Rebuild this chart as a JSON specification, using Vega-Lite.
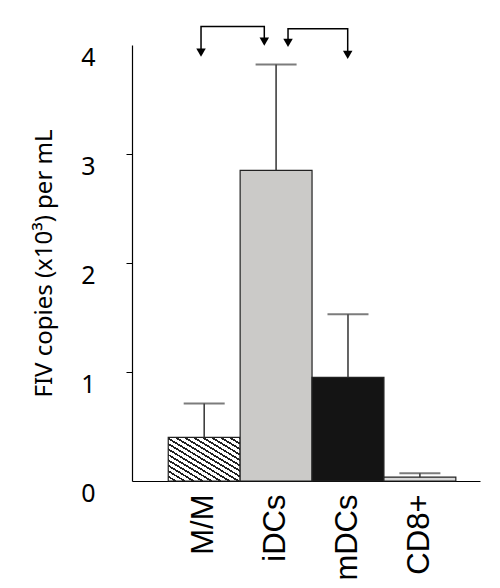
{
  "$schema": "https://vega.github.io/schema/vega-lite/v6.json",
  "background": "white",
  "autosize": "none",
  "padding": {"left": 132, "top": 45, "right": 20, "bottom": 107},
  "width": 348,
  "height": 436,
  "datasets": {
    "bars": [
      {"cell": "M/M", "value": 0.40, "upper": 0.71},
      {"cell": "iDCs", "value": 2.85, "upper": 3.82},
      {"cell": "mDCs", "value": 0.95, "upper": 1.53},
      {"cell": "CD8+", "value": 0.035, "upper": 0.07}
    ],
    "brackets": [
      {"pair": "a", "step": 1, "pos": 0.96, "y": 3.93},
      {"pair": "a", "step": 2, "pos": 0.96, "y": 4.17},
      {"pair": "a", "step": 3, "pos": 1.84, "y": 4.17},
      {"pair": "a", "step": 4, "pos": 1.84, "y": 4.03},
      {"pair": "b", "step": 1, "pos": 2.17, "y": 4.02},
      {"pair": "b", "step": 2, "pos": 2.17, "y": 4.15},
      {"pair": "b", "step": 3, "pos": 3.0, "y": 4.15},
      {"pair": "b", "step": 4, "pos": 3.0, "y": 3.91}
    ]
  },
  "resolve": {"scale": {"x": "independent"}},
  "layer": [
    {
      "data": {"name": "bars"},
      "encoding": {
        "x": {
          "field": "cell",
          "type": "nominal",
          "sort": ["M/M", "iDCs", "mDCs", "CD8+"],
          "title": null,
          "scale": {"paddingInner": 0, "paddingOuter": 0.42, "align": 0.6},
          "axis": {"labelAngle": 270, "labelPadding": 13, "ticks": false}
        }
      },
      "layer": [
        {
          "mark": {"type": "bar", "stroke": "#222", "strokeWidth": 1.2},
          "encoding": {
            "y": {
              "field": "value",
              "type": "quantitative",
              "title": "FIV copies (x10³) per mL",
              "scale": {"domain": [0, 4]},
              "axis": {
                "values": [0, 1, 2, 3, 4],
                "format": "d",
                "labelBaseline": "top",
                "labelOffset": 0,
                "tickColor": {"condition": {"test": "datum.value === 0 || datum.value === 4", "value": "transparent"}, "value": "black"}
              }
            },
            "fill": {
              "condition": {
                "test": "datum.cell === 'M/M'",
                "value": {
                  "gradient": "linear",
                  "x1": 0, "y1": 1, "x2": 1, "y2": 0,
                  "stops": [
                    {"offset": 0, "color": "white"}, {"offset": 0.04, "color": "white"}, {"offset": 0.04, "color": "#222"}, {"offset": 0.0625, "color": "#222"},
                    {"offset": 0.0625, "color": "white"}, {"offset": 0.1025, "color": "white"}, {"offset": 0.1025, "color": "#222"}, {"offset": 0.125, "color": "#222"},
                    {"offset": 0.125, "color": "white"}, {"offset": 0.165, "color": "white"}, {"offset": 0.165, "color": "#222"}, {"offset": 0.1875, "color": "#222"},
                    {"offset": 0.1875, "color": "white"}, {"offset": 0.2275, "color": "white"}, {"offset": 0.2275, "color": "#222"}, {"offset": 0.25, "color": "#222"},
                    {"offset": 0.25, "color": "white"}, {"offset": 0.29, "color": "white"}, {"offset": 0.29, "color": "#222"}, {"offset": 0.3125, "color": "#222"},
                    {"offset": 0.3125, "color": "white"}, {"offset": 0.3525, "color": "white"}, {"offset": 0.3525, "color": "#222"}, {"offset": 0.375, "color": "#222"},
                    {"offset": 0.375, "color": "white"}, {"offset": 0.415, "color": "white"}, {"offset": 0.415, "color": "#222"}, {"offset": 0.4375, "color": "#222"},
                    {"offset": 0.4375, "color": "white"}, {"offset": 0.4775, "color": "white"}, {"offset": 0.4775, "color": "#222"}, {"offset": 0.5, "color": "#222"},
                    {"offset": 0.5, "color": "white"}, {"offset": 0.54, "color": "white"}, {"offset": 0.54, "color": "#222"}, {"offset": 0.5625, "color": "#222"},
                    {"offset": 0.5625, "color": "white"}, {"offset": 0.6025, "color": "white"}, {"offset": 0.6025, "color": "#222"}, {"offset": 0.625, "color": "#222"},
                    {"offset": 0.625, "color": "white"}, {"offset": 0.665, "color": "white"}, {"offset": 0.665, "color": "#222"}, {"offset": 0.6875, "color": "#222"},
                    {"offset": 0.6875, "color": "white"}, {"offset": 0.7275, "color": "white"}, {"offset": 0.7275, "color": "#222"}, {"offset": 0.75, "color": "#222"},
                    {"offset": 0.75, "color": "white"}, {"offset": 0.79, "color": "white"}, {"offset": 0.79, "color": "#222"}, {"offset": 0.8125, "color": "#222"},
                    {"offset": 0.8125, "color": "white"}, {"offset": 0.8525, "color": "white"}, {"offset": 0.8525, "color": "#222"}, {"offset": 0.875, "color": "#222"},
                    {"offset": 0.875, "color": "white"}, {"offset": 0.915, "color": "white"}, {"offset": 0.915, "color": "#222"}, {"offset": 0.9375, "color": "#222"},
                    {"offset": 0.9375, "color": "white"}, {"offset": 0.9775, "color": "white"}, {"offset": 0.9775, "color": "#222"}, {"offset": 1, "color": "#222"}
                  ]
                }
              },
              "field": "cell",
              "type": "nominal",
              "scale": {"domain": ["M/M", "iDCs", "mDCs", "CD8+"], "range": ["#ffffff", "#cbcac8", "#141414", "#d9d9d9"]},
              "legend": null
            }
          }
        },
        {
          "mark": {"type": "rule", "color": "#333", "strokeWidth": 1.5},
          "encoding": {
            "y": {"field": "value", "type": "quantitative", "title": "FIV copies (x10³) per mL"},
            "y2": {"field": "upper"}
          }
        },
        {
          "mark": {"type": "tick", "orient": "horizontal", "color": "#444", "size": 41, "thickness": 2},
          "encoding": {
            "y": {"field": "upper", "type": "quantitative", "title": "FIV copies (x10³) per mL"}
          }
        }
      ]
    },
    {
      "data": {"name": "brackets"},
      "encoding": {
        "x": {"field": "pos", "type": "quantitative", "scale": {"domain": [0, 4.84]}, "axis": null},
        "y": {"field": "y", "type": "quantitative", "title": "FIV copies (x10³) per mL"}
      },
      "layer": [
        {
          "mark": {"type": "line", "color": "black", "strokeWidth": 1.5},
          "encoding": {
            "detail": {"field": "pair"},
            "order": {"field": "step"}
          }
        },
        {
          "transform": [{"filter": "datum.step === 1 || datum.step === 4"}],
          "mark": {"type": "point", "shape": "triangle-down", "filled": true, "color": "black", "size": 90, "opacity": 1},
          "encoding": {}
        }
      ]
    }
  ],
  "config": {
    "view": {"stroke": null},
    "axis": {
      "grid": false,
      "domainColor": "black",
      "domainWidth": 1.2,
      "labelColor": "black",
      "titleColor": "black"
    },
    "axisX": {
      "labelFont": "Liberation Sans",
      "labelFontSize": 31
    },
    "axisY": {
      "labelFont": "Noto Sans",
      "labelFontSize": 25,
      "labelPadding": 31,
      "tickSize": 6,
      "titleFont": "Noto Sans",
      "titleFontSize": 24,
      "titleFontWeight": "normal",
      "titlePadding": 24
    }
  }
}
